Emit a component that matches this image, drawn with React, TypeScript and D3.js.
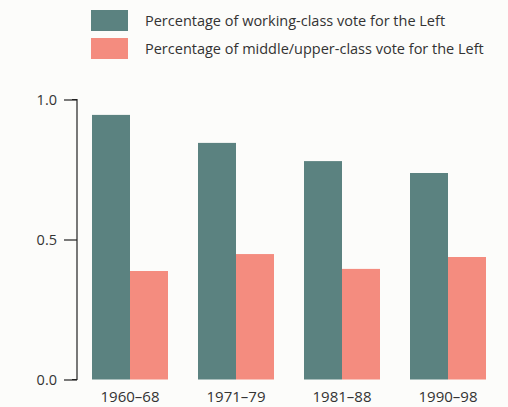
import { useEffect, useRef } from "react";
import * as d3 from "d3";

const periods = ["1960–68", "1971–79", "1981–88", "1990–98"];
const workingClass = [0.945, 0.845, 0.78, 0.7375];
const middleUpper = [0.3875, 0.448, 0.395, 0.4375];
const seriesNames = [
  "Percentage of working-class vote for the Left",
  "Percentage of middle/upper-class vote for the Left",
];
const colors = ["#5b8280", "#f48c7f"];
const yTicks = [0, 0.5, 1];

const W = 508;
const H = 407;
const FONT = "'Open Sans', 'Liberation Sans', sans-serif";

const App: React.FC = () => {
  const ref = useRef<SVGSVGElement>(null);

  useEffect(() => {
    if (!ref.current) return;
    const svg = d3.select(ref.current);
    svg.selectAll("*").remove();

    svg.append("rect").attr("width", W).attr("height", H).attr("fill", "#fcfcfa");

    const x = d3.scaleBand<string>()
      .domain(periods)
      .range([77, 501])
      .paddingInner(30 / 106)
      .paddingOuter(15 / 106);

    const x1 = d3.scaleBand<number>()
      .domain([0, 1])
      .range([0, x.bandwidth()]);

    const y = d3.scaleLinear().domain([0, 1]).range([379.5, 99.5]);

    const series = [workingClass, middleUpper];

    // bars
    series.forEach((vals, si) => {
      svg.append("g")
        .selectAll("rect")
        .data(vals)
        .join("rect")
        .attr("x", (_, i) => x(periods[i])! + x1(si)!)
        .attr("y", d => y(d))
        .attr("width", x1.bandwidth())
        .attr("height", d => y(0) - y(d))
        .attr("fill", colors[si]);
    });

    // y axis
    const yAxis = svg.append("g")
      .attr("transform", "translate(77,0)")
      .call(d3.axisLeft(y).tickValues(yTicks).tickFormat(d3.format(".1f")).tickSize(13).tickPadding(7));
    yAxis.select(".domain").attr("d", `M-5,${y(1)}H0V${y(0)}H-5`).attr("stroke", "#222").attr("stroke-width", 1.2);
    yAxis.selectAll(".tick line").attr("stroke", "#222").attr("stroke-width", 1.2);
    yAxis.selectAll(".tick text")
      .attr("font-family", FONT)
      .attr("font-size", 14.5)
      .attr("fill", "#333");

    // x labels
    svg.append("g")
      .selectAll("text")
      .data(periods)
      .join("text")
      .attr("x", d => x(d)! + x.bandwidth() / 2)
      .attr("y", 402)
      .attr("text-anchor", "middle")
      .attr("font-family", FONT)
      .attr("font-size", 15)
      .attr("fill", "#333")
      .text(d => d);

    // legend
    const legend = svg.append("g")
      .selectAll("g")
      .data(seriesNames)
      .join("g")
      .attr("transform", (_, i) => `translate(91,${10 + i * 28})`);
    legend.append("rect")
      .attr("width", 37)
      .attr("height", 21)
      .attr("fill", (_, i) => colors[i]);
    legend.append("text")
      .attr("x", 54)
      .attr("y", 15.5)
      .attr("font-family", FONT)
      .attr("font-size", 14.5)
      .attr("fill", "#333")
      .text(d => d);
  }, []);

  return (
    <svg
      ref={ref}
      width={W}
      height={H}
      style={{ position: "absolute", left: 0, top: 0, display: "block" }}
    />
  );
};

export default App;
